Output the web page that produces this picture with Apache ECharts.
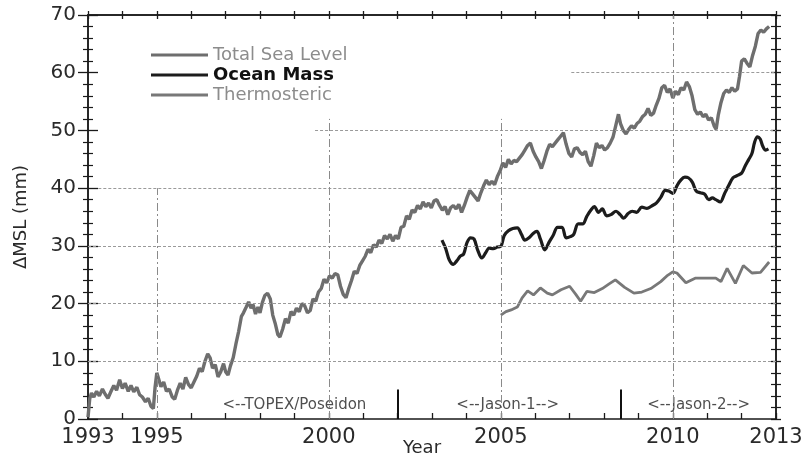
<!DOCTYPE html>
<html><head><meta charset="utf-8">
<script src="https://cdn.jsdelivr.net/npm/echarts@6/dist/echarts.min.js"></script>
<style>html,body{margin:0;padding:0;background:#fff}#c{width:805px;height:457px}</style>
</head><body><div id="c"></div>
<script>
// ---- data ----
const seriesNames = ['Total Sea Level', 'Ocean Mass', 'Thermosteric'];
const xTickLabels = [1993, 1995, 2000, 2005, 2010, 2013];

const totalSeaLevel = [
[1993.00,0.3],[1993.05,3.5],[1993.10,4.5],[1993.17,3.8],[1993.25,4.8],[1993.33,4.0],[1993.42,5.2],[1993.50,4.3],
[1993.58,3.6],[1993.67,4.8],[1993.75,5.8],[1993.83,5.0],[1993.92,6.8],[1994.00,5.3],[1994.08,6.2],[1994.17,4.8],
[1994.25,5.8],[1994.33,4.7],[1994.42,5.5],[1994.50,4.2],[1994.58,3.8],[1994.67,3.0],[1994.75,3.6],[1994.83,2.2],
[1994.90,1.8],[1994.95,5.5],[1995.00,8.0],[1995.05,7.0],[1995.12,5.6],[1995.20,6.4],[1995.28,4.8],[1995.36,5.2],
[1995.45,3.8],[1995.52,3.4],[1995.60,5.0],[1995.68,6.2],[1995.76,5.2],[1995.84,7.2],[1995.92,6.0],[1996.00,5.4],
[1996.08,6.4],[1996.16,7.4],[1996.24,8.8],[1996.32,8.2],[1996.40,10.0],[1996.48,11.3],[1996.55,10.6],[1996.62,8.8],
[1996.70,9.4],[1996.78,7.3],[1996.86,8.2],[1996.94,9.6],[1997.00,8.2],[1997.07,7.6],[1997.14,9.2],[1997.22,10.6],
[1997.30,13.0],[1997.38,15.2],[1997.46,17.8],[1997.52,18.4],[1997.60,19.4],[1997.67,20.3],[1997.74,19.2],[1997.80,19.8],
[1997.87,18.2],[1997.94,19.4],[1998.00,18.4],[1998.07,20.2],[1998.14,21.4],[1998.22,21.8],[1998.30,20.8],[1998.37,18.0],
[1998.44,16.6],[1998.52,14.6],[1998.58,14.2],[1998.66,15.6],[1998.74,17.4],[1998.82,16.6],[1998.90,18.6],[1998.98,18.0],
[1999.06,19.2],[1999.14,18.6],[1999.22,20.0],[1999.30,19.6],[1999.38,18.4],[1999.46,18.8],[1999.54,20.8],[1999.62,20.4],
[1999.70,22.0],[1999.78,22.6],[1999.86,24.2],[1999.94,23.6],[2000.02,24.8],[2000.10,24.4],[2000.18,25.2],[2000.26,25.0],
[2000.34,23.0],[2000.42,21.6],[2000.50,21.0],[2000.58,22.6],[2000.66,24.0],[2000.74,25.6],[2000.82,25.2],[2000.90,26.6],
[2000.98,27.4],[2001.06,28.2],[2001.14,29.4],[2001.22,28.8],[2001.30,30.2],[2001.38,29.8],[2001.46,31.0],[2001.54,30.4],
[2001.62,31.8],[2001.70,31.2],[2001.78,32.0],[2001.86,30.8],[2001.94,31.8],[2002.02,31.2],[2002.10,33.2],[2002.18,33.4],
[2002.26,35.2],[2002.34,34.6],[2002.42,36.2],[2002.50,35.8],[2002.58,37.0],[2002.66,36.4],[2002.74,37.6],[2002.82,36.8],
[2002.90,37.4],[2002.98,36.6],[2003.06,37.8],[2003.14,38.0],[2003.22,37.0],[2003.30,36.2],[2003.38,36.8],[2003.46,35.4],
[2003.54,36.6],[2003.62,37.0],[2003.70,36.4],[2003.78,37.2],[2003.86,35.8],[2003.94,37.0],[2004.02,38.4],[2004.10,39.6],
[2004.18,39.0],[2004.26,38.4],[2004.34,37.8],[2004.42,39.2],[2004.50,40.4],[2004.58,41.4],[2004.66,40.6],[2004.74,41.2],
[2004.82,40.6],[2004.90,42.0],[2004.98,43.0],[2005.06,44.4],[2005.14,43.6],[2005.22,45.0],[2005.30,44.2],[2005.38,44.8],
[2005.46,44.6],[2005.54,45.2],[2005.62,45.8],[2005.70,46.6],[2005.78,47.4],[2005.86,47.8],[2005.94,46.4],[2006.02,45.4],
[2006.10,44.6],[2006.18,43.4],[2006.26,44.8],[2006.34,46.4],[2006.42,47.6],[2006.50,47.2],[2006.58,47.8],[2006.66,48.4],
[2006.74,49.0],[2006.82,49.6],[2006.90,47.6],[2006.98,46.0],[2007.06,45.4],[2007.14,46.8],[2007.22,47.0],[2007.30,46.2],
[2007.38,45.8],[2007.46,46.4],[2007.54,44.6],[2007.62,43.8],[2007.70,45.6],[2007.78,47.8],[2007.86,47.0],[2007.94,47.4],
[2008.02,46.6],[2008.10,47.0],[2008.18,47.8],[2008.26,48.8],[2008.34,50.8],[2008.42,52.8],[2008.48,51.2],[2008.56,50.0],
[2008.64,49.4],[2008.72,50.2],[2008.80,50.8],[2008.88,50.4],[2008.96,51.2],[2009.04,51.6],[2009.12,52.4],[2009.20,52.8],
[2009.28,53.8],[2009.36,52.6],[2009.44,53.0],[2009.52,54.4],[2009.60,55.6],[2009.68,57.4],[2009.76,57.8],[2009.84,56.6],
[2009.92,57.2],[2010.00,55.6],[2010.08,56.8],[2010.16,56.2],[2010.24,57.4],[2010.32,57.0],[2010.40,58.4],[2010.48,57.6],
[2010.56,56.0],[2010.64,53.6],[2010.72,52.8],[2010.80,53.2],[2010.88,52.4],[2010.96,52.8],[2011.04,51.8],[2011.12,52.2],
[2011.20,50.8],[2011.26,50.2],[2011.32,52.6],[2011.40,54.8],[2011.48,56.4],[2011.56,57.0],[2011.64,56.6],[2011.72,57.4],
[2011.80,56.8],[2011.88,57.2],[2011.94,59.4],[2012.00,62.0],[2012.08,62.4],[2012.16,61.6],[2012.24,61.0],[2012.32,63.0],
[2012.40,64.6],[2012.48,66.8],[2012.56,67.4],[2012.64,67.0],[2012.72,67.6],[2012.80,68.0]
];

const oceanMass = [
[2003.29,31.0],[2003.40,29.5],[2003.50,27.6],[2003.62,26.8],[2003.72,27.4],[2003.82,28.2],[2003.92,28.6],[2004.02,30.6],
[2004.12,31.4],[2004.22,31.2],[2004.32,29.4],[2004.45,27.9],[2004.56,28.8],[2004.66,29.6],[2004.78,29.5],[2004.90,29.8],
[2005.00,29.9],[2005.10,31.8],[2005.22,32.6],[2005.35,33.0],[2005.48,33.1],[2005.60,32.0],[2005.70,31.0],[2005.82,31.4],
[2005.95,32.2],[2006.05,32.5],[2006.15,31.2],[2006.28,29.3],[2006.40,30.6],[2006.52,31.8],[2006.65,33.2],[2006.78,33.2],
[2006.90,31.4],[2007.02,31.6],[2007.12,32.0],[2007.25,33.8],[2007.38,33.8],[2007.50,35.1],[2007.62,36.2],[2007.72,36.8],
[2007.84,35.8],[2007.95,36.4],[2008.08,35.2],[2008.20,35.4],[2008.35,36.0],[2008.47,35.4],[2008.57,34.8],[2008.70,35.6],
[2008.82,36.0],[2008.95,35.8],[2009.10,36.7],[2009.25,36.5],[2009.38,36.9],[2009.52,37.4],[2009.65,38.4],[2009.78,39.6],
[2009.88,39.5],[2010.00,39.1],[2010.12,40.4],[2010.22,41.3],[2010.35,41.9],[2010.45,41.8],[2010.57,41.0],[2010.68,39.5],
[2010.80,39.2],[2010.92,39.0],[2011.05,38.0],[2011.15,38.3],[2011.25,38.0],[2011.38,37.6],[2011.50,39.0],[2011.62,40.4],
[2011.75,41.8],[2011.88,42.2],[2012.00,42.6],[2012.10,43.8],[2012.20,44.9],[2012.30,46.0],[2012.38,48.0],[2012.46,48.9],
[2012.54,48.5],[2012.62,47.2],[2012.70,46.6],[2012.78,46.8]
];

const thermosteric = [
[2005.00,18.0],[2005.15,18.6],[2005.30,18.9],[2005.48,19.4],[2005.62,21.0],[2005.78,22.2],[2005.95,21.5],[2006.15,22.7],
[2006.35,21.8],[2006.50,21.5],[2006.75,22.4],[2007.00,23.0],[2007.18,21.6],[2007.32,20.4],[2007.50,22.1],[2007.72,21.9],
[2007.95,22.6],[2008.15,23.4],[2008.33,24.1],[2008.60,22.8],[2008.87,21.8],[2009.10,22.0],[2009.36,22.6],[2009.65,23.8],
[2009.85,24.9],[2010.00,25.5],[2010.12,25.3],[2010.38,23.6],[2010.65,24.4],[2010.95,24.4],[2011.25,24.4],[2011.40,23.8],
[2011.58,26.1],[2011.82,23.5],[2012.05,26.6],[2012.30,25.3],[2012.55,25.4],[2012.80,27.2]
];

// mission annotations: [centre year, value, text]
const missionLabels = [[1999.0, 2.4, '<--TOPEX/Poseidon'], [2005.2, 2.4, '<--Jason-1-->'], [2010.75, 2.4, '<--Jason-2-->']];
const missionBreaks = [2002.0, 2008.5];
// partial grid lines [value, from, to] and [year, from, to]
const hGrid = [[10,1993,2013],[20,1993,2013],[30,1993,2013],[40,1993.3,2013],[50,1999.6,2013],[60,2007.05,2013]];
const vGrid = [[1995,0,40],[2000,0,52],[2005,0,52],[2010,0,70]];

// ---- chart ----
const FONT = 'DejaVu Sans';
const chart = echarts.init(document.getElementById('c'), null, {renderer: 'canvas'});
const axisLineStyle = {color: '#1a1a1a', width: 1.5};
function xAx(pos, inside, len, showLabel) {
  return {type: 'value', position: pos, min: 1993, max: 2013, interval: 1,
    axisLine: {show: true, onZero: false, lineStyle: axisLineStyle},
    axisTick: {show: true, inside: inside, length: len, lineStyle: {color: '#1a1a1a', width: 1.3}},
    splitLine: {show: false},
    axisLabel: {show: showLabel, margin: 8, fontFamily: FONT, fontSize: 21, color: '#2a2a2a',
      formatter: v => xTickLabels.indexOf(Math.round(v)) >= 0 ? String(Math.round(v)) : ''},
  };
}
function yAx(pos, inside, len, minorLen, showLabel) {
  return {type: 'value', position: pos, min: 0, max: 70, interval: 10,
    axisLine: {show: true, onZero: false, lineStyle: axisLineStyle},
    axisTick: {show: true, inside: inside, length: len, lineStyle: {color: '#1a1a1a', width: 1.3}},
    minorTick: {show: true, splitNumber: 5, length: minorLen, lineStyle: {color: '#1a1a1a', width: 1.2}},
    splitLine: {show: false}, minorSplitLine: {show: false},
    axisLabel: {show: showLabel, margin: 12, fontFamily: FONT, fontSize: 20, color: '#2a2a2a'},
  };
}
const xAxes = [xAx('bottom', true, 6, true), xAx('top', true, 4, false), xAx('top', false, 4, false)];
xAxes[0].name = 'Year';
xAxes[0].nameLocation = 'middle';
xAxes[0].nameGap = 20;
xAxes[0].nameMoveOverlap = false;
xAxes[0].nameTextStyle = {fontFamily: FONT, fontSize: 18, color: '#2a2a2a', padding: [0, 20, 0, 0]};
const yAxes = [yAx('left', false, 10, 5, true), yAx('left', true, 10, 5, false), yAx('right', true, 5, 5, false), yAx('right', false, 5, 5, false)];
yAxes[0].name = 'ΔMSL (mm)';
yAxes[0].nameLocation = 'middle';
yAxes[0].nameGap = 58;
yAxes[0].nameMoveOverlap = false;
yAxes[0].nameTextStyle = {fontFamily: FONT, fontSize: 18, color: '#2a2a2a'};

const gridLines = hGrid.map(h => [{coord: [h[1], h[0]], lineStyle: {type: [3, 2], color: '#9a9a9a', width: 1}}, {coord: [h[2], h[0]]}])
  .concat(vGrid.map(v => [{coord: [v[0], v[1]], lineStyle: {type: [8, 3, 2, 3], color: '#8a8a8a', width: 1}}, {coord: [v[0], v[2]]}]));

const option = {
  backgroundColor: '#fff',
  animation: false,
  grid: {left: 88, right: 29, top: 15, bottom: 38, containLabel: false, outerBoundsMode: 'none'},
  xAxis: xAxes,
  yAxis: yAxes,
  legend: {
    orient: 'vertical', left: 146, top: 41, itemWidth: 57, itemHeight: 3, itemGap: 2,
    icon: 'rect',
    textStyle: {fontFamily: FONT, fontSize: 18, color: '#8a8a8a'},
    data: [
      {name: seriesNames[0], textStyle: {color: '#8c8c8c'}},
      {name: seriesNames[1], textStyle: {color: '#111', fontWeight: 'bold'}},
      {name: seriesNames[2], textStyle: {color: '#8c8c8c'}}
    ]
  },
  series: [
    {name: 'grid', type: 'line', data: [], silent: true,
      markLine: {silent: true, symbol: 'none', label: {show: false}, data: gridLines}},
    {name: seriesNames[0], type: 'line', data: totalSeaLevel, showSymbol: false, z: 3,
      color: '#6e6e6e', lineStyle: {color: '#6e6e6e', width: 3.4}},
    {name: seriesNames[1], type: 'line', data: oceanMass, showSymbol: false, smooth: 0.35, z: 4,
      color: '#1c1c1c', lineStyle: {color: '#1c1c1c', width: 3.2}},
    {name: seriesNames[2], type: 'line', data: thermosteric, showSymbol: false, z: 3,
      color: '#787878', lineStyle: {color: '#787878', width: 2.8}},
    {name: 'missions', type: 'scatter', data: missionLabels, symbolSize: 0, silent: true,
      label: {show: true, position: 'inside', formatter: p => p.value[2], fontFamily: FONT, fontSize: 15, color: '#222'},
      markLine: {silent: true, symbol: 'none', label: {show: false},
        lineStyle: {type: 'solid', color: '#111', width: 2},
        data: missionBreaks.map(b => [{coord: [b, 0]}, {coord: [b, 5.1]}])}}
  ]
};
chart.setOption(option);
</script></body></html>
